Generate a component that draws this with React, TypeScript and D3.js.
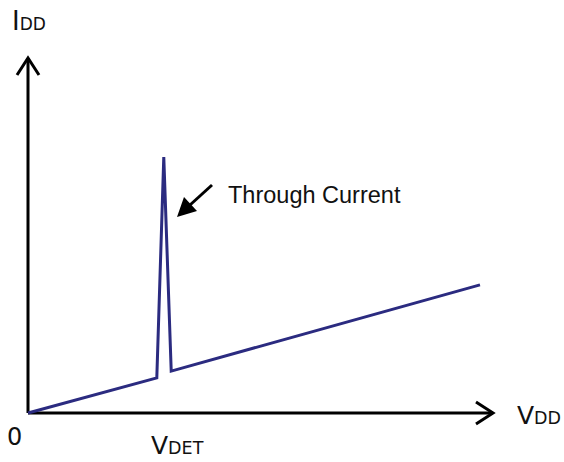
import React from 'react';
import * as d3 from "d3";

// supply voltage vs. supply current (arbitrary units, 0..100)
const vdd = [0, 27.7, 29.2, 30.8, 97.2];
const idd = [0, 9.9, 72.1, 11.8, 36.1];

const W = 564;
const H = 462;

function App() {
  const x0 = 28, y0 = 413;
  const xScale = d3.scaleLinear().domain([0, 100]).range([x0, 493]);
  const yScale = d3.scaleLinear().domain([0, 100]).range([y0, 58]);

  const line = d3.line<number>()
    .x((d, i) => xScale(vdd[i]))
    .y((d) => yScale(d));

  const xEnd = xScale(100);
  const yEnd = yScale(100);

  return (
    <svg width={W} height={H} style={{ position: 'absolute', left: 0, top: 0, background: '#fff' }}>
      {/* axes */}
      <g stroke="#000" strokeWidth={3} fill="none">
        <line x1={x0} y1={y0} x2={xEnd} y2={y0} />
        <line x1={x0} y1={y0} x2={x0} y2={yEnd} />
        <path d={`M${xEnd - 17},${y0 - 11} L${xEnd},${y0} L${xEnd - 17},${y0 + 11}`} strokeLinejoin="miter" />
        <path d={`M${x0 - 11},${yEnd + 17} L${x0},${yEnd} L${x0 + 11},${yEnd + 17}`} strokeLinejoin="miter" />
      </g>

      {/* curve */}
      <path d={line(idd) || ''} fill="none" stroke="#2b2b80" strokeWidth={3} strokeLinejoin="miter" />

      {/* annotation arrow */}
      <g stroke="#000" strokeWidth={3}>
        <line x1={212} y1={185} x2={190} y2={205} />
      </g>
      <path d="M177,217 L184,197 L197,211 Z" fill="#000" />
      <text x={228} y={203} fontFamily="Liberation Sans, Arial, sans-serif" fontSize={23.5} fill="#111">Through Current</text>

      {/* labels */}
      <g fontFamily="DejaVu Sans, Verdana, sans-serif" fill="#111">
        <text x={12} y={30} fontSize={26}>I<tspan fontSize={17}>DD</tspan></text>
        <text x={7} y={445} fontSize={24}>0</text>
        <text x={517} y={424} fontSize={25}>V<tspan fontSize={17.5}>DD</tspan></text>
        <text x={151} y={454} fontSize={25}>V<tspan fontSize={17.5}>DET</tspan></text>
      </g>
    </svg>
  );
}

export default App;
